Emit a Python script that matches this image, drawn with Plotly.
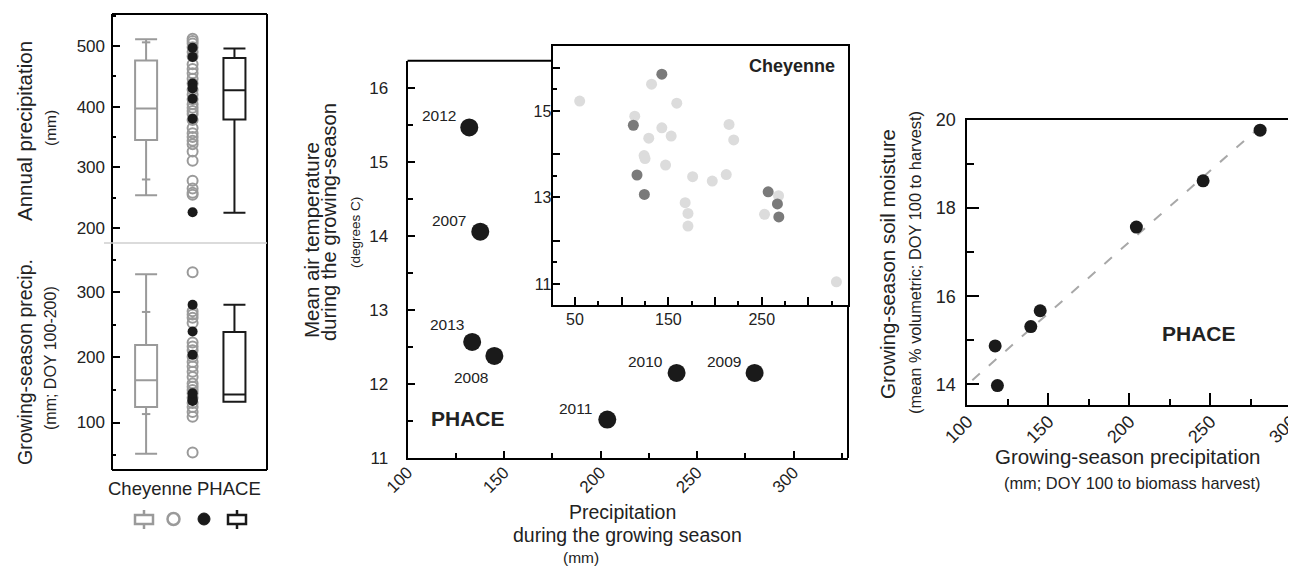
import numpy as np
import plotly.graph_objects as go

# page body has an 8px margin; size the figure to fill the window from that offset
OFF = 8
W, H = 1296 - OFF, 573 - OFF
def px(x): return (x - OFF) / W
def py(y): return 1 - (y - OFF) / H

FONT = "Liberation Sans, Arial, sans-serif"
GRAY = "#9a9a9a"
BLACK = "#1a1a1a"
LIGHT = "#dcdcdc"
DARK = "#7a7a7a"
TXT = "#222222"

# ---------------- data ----------------
groups = ["Cheyenne", "PHACE"]

# Annual precipitation (mm)
annual_chey_box = dict(q1=345, median=397, q3=476, lowerfence=254, upperfence=511)
annual_chey_pct = [280, 506]
annual_phace_box = dict(q1=379, median=427, q3=480, lowerfence=225, upperfence=496)
annual_chey_years = [512, 508, 504, 498, 490, 483, 470, 462, 455, 446, 438, 428, 420, 412,
                     404, 398, 393, 388, 378, 365, 356, 350, 344, 338, 326, 311, 278, 265,
                     258, 255]
annual_phace_years = [497, 482, 438, 430, 413, 380, 226]

# Growing-season precipitation (mm; DOY 100-200)
gs_chey_box = dict(q1=124, median=165, q3=219, lowerfence=52, upperfence=328)
gs_chey_pct = [113, 270]
gs_phace_box = dict(q1=132, median=143, q3=239, lowerfence=132, upperfence=281)
gs_chey_years = [331, 271, 266, 261, 253, 223, 217, 211, 201, 193, 186, 178, 170, 160,
                 155, 150, 145, 138, 130, 124, 116, 109, 54]
gs_phace_years = [133, 138, 134, 145, 204, 240, 281]

# PHACE: growing-season precipitation vs mean air temperature
phace_years = ["2012", "2007", "2013", "2008", "2011", "2010", "2009"]
phace_precip = [132, 137.7, 133.5, 145, 203.5, 239.4, 279.8]
phace_temp = [15.47, 14.06, 12.57, 12.38, 11.52, 12.15, 12.15]

# Cheyenne long-term (inset)
chey_other_precip = [55, 114, 132, 159, 143, 153, 129, 124, 125, 147, 176, 197, 212, 215,
                     220, 168, 171, 171, 253, 268, 330]
chey_other_temp = [15.23, 14.88, 15.62, 15.18, 14.61, 14.42, 14.37, 13.97, 13.90, 13.75,
                   13.48, 13.38, 13.53, 14.69, 14.33, 12.88, 12.63, 12.34, 12.61, 13.04, 11.05]
chey_study_precip = [143, 112.5, 116.4, 124.3, 256.9, 266.8, 268.3]
chey_study_temp = [15.85, 14.67, 13.52, 13.07, 13.13, 12.85, 12.55]

# PHACE soil moisture vs growing-season precipitation
sm_precip = [117.1, 118.5, 139.1, 144.9, 204.3, 245.5, 280.7]
sm_moist = [14.87, 13.97, 15.31, 15.67, 17.57, 18.62, 19.77]

# ---------------- figure ----------------
fig = go.Figure()

POS_CHEY, POS_DOTS, POS_PHACE = 0.22, 0.52, 0.79
BOXW = 0.142

def add_box_panel(xa, ya, chey_box, chey_pct, phace_box, chey_years, phace_years):
    fig.add_trace(go.Box(x=[POS_CHEY], q1=[chey_box["q1"]], median=[chey_box["median"]],
                         q3=[chey_box["q3"]], lowerfence=[chey_box["lowerfence"]],
                         upperfence=[chey_box["upperfence"]], width=BOXW, whiskerwidth=1,
                         line=dict(color=GRAY, width=2), fillcolor="rgba(0,0,0,0)",
                         boxpoints=False, xaxis=xa, yaxis=ya, name=groups[0]))
    fig.add_trace(go.Scatter(x=[POS_CHEY] * len(chey_pct), y=chey_pct, mode="markers",
                             marker=dict(symbol="line-ew", size=6, color=GRAY,
                                         line=dict(color=GRAY, width=2)),
                             xaxis=xa, yaxis=ya, hoverinfo="skip"))
    fig.add_trace(go.Box(x=[POS_PHACE], q1=[phace_box["q1"]], median=[phace_box["median"]],
                         q3=[phace_box["q3"]], lowerfence=[phace_box["lowerfence"]],
                         upperfence=[phace_box["upperfence"]], width=BOXW, whiskerwidth=1,
                         line=dict(color=BLACK, width=2), fillcolor="rgba(0,0,0,0)",
                         boxpoints=False, xaxis=xa, yaxis=ya, name=groups[1]))
    fig.add_trace(go.Scatter(x=[POS_DOTS] * len(chey_years), y=chey_years, mode="markers",
                             marker=dict(symbol="circle-open", size=10, color=GRAY,
                                         line=dict(width=2)),
                             xaxis=xa, yaxis=ya))
    fig.add_trace(go.Scatter(x=[POS_DOTS] * len(phace_years), y=phace_years, mode="markers",
                             marker=dict(symbol="circle", size=10, color=BLACK),
                             xaxis=xa, yaxis=ya))

add_box_panel("x", "y", annual_chey_box, annual_chey_pct, annual_phace_box,
              annual_chey_years, annual_phace_years)
add_box_panel("x2", "y2", gs_chey_box, gs_chey_pct, gs_phace_box,
              gs_chey_years, gs_phace_years)

# main PHACE scatter
fig.add_trace(go.Scatter(x=phace_precip, y=phace_temp, mode="markers",
                         marker=dict(size=18, color=BLACK), xaxis="x3", yaxis="y3"))

# inset
fig.add_trace(go.Scatter(x=chey_other_precip, y=chey_other_temp, mode="markers",
                         marker=dict(size=11, color=LIGHT), xaxis="x4", yaxis="y4"))
fig.add_trace(go.Scatter(x=chey_study_precip, y=chey_study_temp, mode="markers",
                         marker=dict(size=11, color=DARK), xaxis="x4", yaxis="y4"))

# right panel
slope, icpt = np.polyfit(sm_precip, sm_moist, 1)
lx = np.array([103.0, 300.0])
fig.add_trace(go.Scatter(x=lx, y=slope * lx + icpt, mode="lines",
                         line=dict(color="#a8a8a8", width=2, dash="10px,12px"),
                         xaxis="x5", yaxis="y5"))
fig.add_trace(go.Scatter(x=sm_precip, y=sm_moist, mode="markers",
                         marker=dict(size=13, color=BLACK), xaxis="x5", yaxis="y5"))

def yax(domain, rng, dtick, tick0, minor_dtick, ticklen, minorlen, anchor, size=17, standoff=4, **kw):
    d = dict(domain=domain, range=rng, dtick=dtick, tick0=tick0, ticks="inside",
             ticklen=ticklen, tickwidth=2, tickcolor="black", showgrid=False, zeroline=False,
             anchor=anchor, tickfont=dict(family=FONT, size=size, color=TXT),
             ticklabelstandoff=standoff, automargin=False, ticklabeloverflow="allow",
             minor=dict(dtick=minor_dtick, ticks="inside", ticklen=minorlen, tickwidth=2,
                        tickcolor="black", showgrid=False))
    d.update(kw)
    return d

layout = dict(
    width=W, height=H, margin=dict(l=0, r=0, t=0, b=0, autoexpand=False),
    paper_bgcolor="white", plot_bgcolor="rgba(0,0,0,0)", showlegend=False,
    font=dict(family=FONT, color=TXT),
)

LX = [px(112), px(267)]
layout["xaxis"] = dict(domain=LX, range=[0, 1], visible=False, anchor="y", automargin=False)
layout["xaxis2"] = dict(domain=LX, range=[0, 1], visible=False, anchor="y2", automargin=False)
layout["yaxis"] = yax([py(243), py(14)], [175.3, 552.7], 100, 200, 50, 8, 4, "x", size=17, standoff=6)
layout["yaxis2"] = yax([py(470), py(243)], [27, 376], 100, 100, 50, 8, 4, "x2", size=17, standoff=6)

# main
layout["xaxis3"] = dict(domain=[px(407.5), px(848)], range=[100, 328.2], dtick=50, tick0=100,
                        ticks="inside", ticklen=7, tickwidth=2, tickcolor="black",
                        tickangle=-45, showline=True, linewidth=2, linecolor="black",
                        showgrid=False, zeroline=False, anchor="y3", automargin=False,
                        ticklabelstandoff=-4, ticklabeloverflow="allow",
                        tickfont=dict(family=FONT, size=17, color=TXT),
                        minor=dict(dtick=25, tick0=100, ticks="inside", ticklen=5, tickwidth=2,
                                   tickcolor="black", showgrid=False))
layout["yaxis3"] = yax([py(458), py(60.7)], [11, 16.373], 1, 11, 0.5, 7, 5, "x3", size=17,
                       standoff=14, showline=True, linewidth=2, linecolor="black")

# inset
layout["xaxis4"] = dict(domain=[px(552.5), px(848)], range=[25.9, 342.4],
                        tickvals=[50, 100, 150, 200, 250, 300],
                        ticktext=["50", "", "150", "", "250", ""],
                        ticks="inside", ticklen=8, tickwidth=2, tickcolor="black",
                        showline=True, mirror=True, linewidth=2, linecolor="black",
                        showgrid=False, zeroline=False, anchor="y4", automargin=False,
                        ticklabelstandoff=-1,
                        tickfont=dict(family=FONT, size=16, color=TXT),
                        minor=dict(tickvals=[75, 125, 175, 225, 275, 325], ticks="inside",
                                   ticklen=4, tickwidth=2, tickcolor="black", showgrid=False))
layout["yaxis4"] = dict(domain=[py(305), py(45.5)], range=[10.514, 16.514],
                        tickvals=[11, 12, 13, 14, 15, 16],
                        ticktext=["11", "", "13", "", "15", ""],
                        ticks="inside", ticklen=7, tickwidth=2, tickcolor="black",
                        showline=True, mirror=True, linewidth=2, linecolor="black",
                        showgrid=False, zeroline=False, anchor="x4", ticklabelstandoff=-4,
                        automargin=False,
                        tickfont=dict(family=FONT, size=16, color=TXT),
                        minor=dict(tickvals=[11.5, 13.5, 15.5], ticks="inside", ticklen=4,
                                   tickwidth=2, tickcolor="black", showgrid=False))

# right
layout["xaxis5"] = dict(domain=[px(967.3), px(1291.7)], range=[99.9, 300.2],
                        tickvals=[100, 150, 200, 250, 300],
                        ticks="inside", ticklen=12, tickwidth=2, tickcolor="black",
                        tickangle=-45, showline=True, mirror=True, linewidth=2,
                        linecolor="black", showgrid=False, zeroline=False, anchor="y5",
                        automargin=False, ticklabelstandoff=-3, ticklabeloverflow="allow",
                        tickfont=dict(family=FONT, size=18, color=TXT),
                        minor=dict(tickvals=[125, 175, 225, 275], ticks="inside", ticklen=6,
                                   tickwidth=2, tickcolor="black", showgrid=False))
layout["yaxis5"] = yax([py(405), py(120)], [13.53, 20], 2, 14, 1, 12, 7, "x5", size=18,
                       standoff=6, showline=True, mirror=True, linewidth=2, linecolor="black")

fig.update_layout(**layout)

# ---------------- shapes ----------------
shapes = []
def line(x0, y0, x1, y1, color="black", width=2):
    shapes.append(dict(type="line", xref="paper", yref="paper", x0=px(x0), y0=py(y0),
                       x1=px(x1), y1=py(y1), line=dict(color=color, width=width)))

# left frame
line(112, 14, 267, 14)
line(112, 14, 112, 470)
line(267, 14, 267, 470)
line(112, 470, 267, 470)
line(104, 243, 267, 243, color="#cfcfcf", width=1.5)
# main frame top/right parts outside inset
line(407.5, 60.7, 552.5, 60.7)
line(848, 305, 848, 458)

# legend icons
def box_icon(cx, color):
    shapes.append(dict(type="rect", xref="paper", yref="paper", x0=px(cx - 9), x1=px(cx + 9),
                       y0=py(524), y1=py(515), line=dict(color=color, width=2.5),
                       fillcolor="rgba(0,0,0,0)"))
    line(cx, 510, cx, 515, color=color, width=2.5)
    line(cx, 524, cx, 529, color=color, width=2.5)

box_icon(144, GRAY)
box_icon(237, BLACK)
shapes.append(dict(type="circle", xref="paper", yref="paper", x0=px(167.5), x1=px(179.5),
                   y0=py(525), y1=py(513), line=dict(color=GRAY, width=2.5)))
shapes.append(dict(type="circle", xref="paper", yref="paper", x0=px(198), x1=px(210),
                   y0=py(525), y1=py(513), line=dict(color=BLACK, width=1), fillcolor=BLACK))
fig.update_layout(shapes=shapes)

# ---------------- annotations ----------------
anns = []
def ann(text, x, y, size, angle=0, bold=False, xanchor="center"):
    anns.append(dict(text=f"<b>{text}</b>" if bold else text, x=px(x), y=py(y),
                     xref="paper", yref="paper", showarrow=False, textangle=angle,
                     xanchor=xanchor, yanchor="middle",
                     font=dict(family=FONT, size=size, color=TXT)))

ann("Annual precipitation", 25, 131, 20.5, -90)
ann("(mm)", 50, 128, 15.5, -90)
ann("Growing-season precip.", 25, 362, 19.5, -90)
ann("(mm; DOY 100-200)", 50, 358, 16, -90)
ann(groups[0], 150, 488, 18.5)
ann(groups[1], 229, 488, 18.5)

ann("Mean air temperature", 311, 240, 20.5, -90)
ann("during the growing-season", 329, 222, 20.2, -90)
ann("(degrees C)", 356, 233, 13.5, -90)
ann("Precipitation", 622, 512, 19.5)
ann("during the growing season", 627, 535, 19.5)
ann("(mm)", 581, 557, 15.5)
ann("PHACE", 468, 418, 21, bold=True)
ann("Cheyenne", 747, 66, 18, bold=True, xanchor="left")

ann("Growing-season soil moisture", 887, 264, 20.5, -90)
ann("(mean % volumetric; DOY 100 to harvest)", 915, 262, 16.4, -90)
ann("Growing-season precipitation", 1128, 457, 20.5)
ann("(mm; DOY 100 to biomass harvest)", 1132, 483, 16.4)
ann("PHACE", 1199, 333, 21, bold=True)

offsets = {"2012": (-30, 12), "2007": (-31, 11), "2013": (-25, 17), "2008": (-23, -22),
           "2011": (-32, 11), "2010": (-31, 11), "2009": (-31, 11)}
for yr, xv, yv in zip(phace_years, phace_precip, phace_temp):
    dx, dy = offsets[yr]
    anns.append(dict(text=yr, x=xv, y=yv, xref="x3", yref="y3", showarrow=False,
                     xshift=dx, yshift=dy, font=dict(family=FONT, size=15.5, color=TXT)))

fig.update_layout(annotations=anns)
fig.write_html("out.html")
